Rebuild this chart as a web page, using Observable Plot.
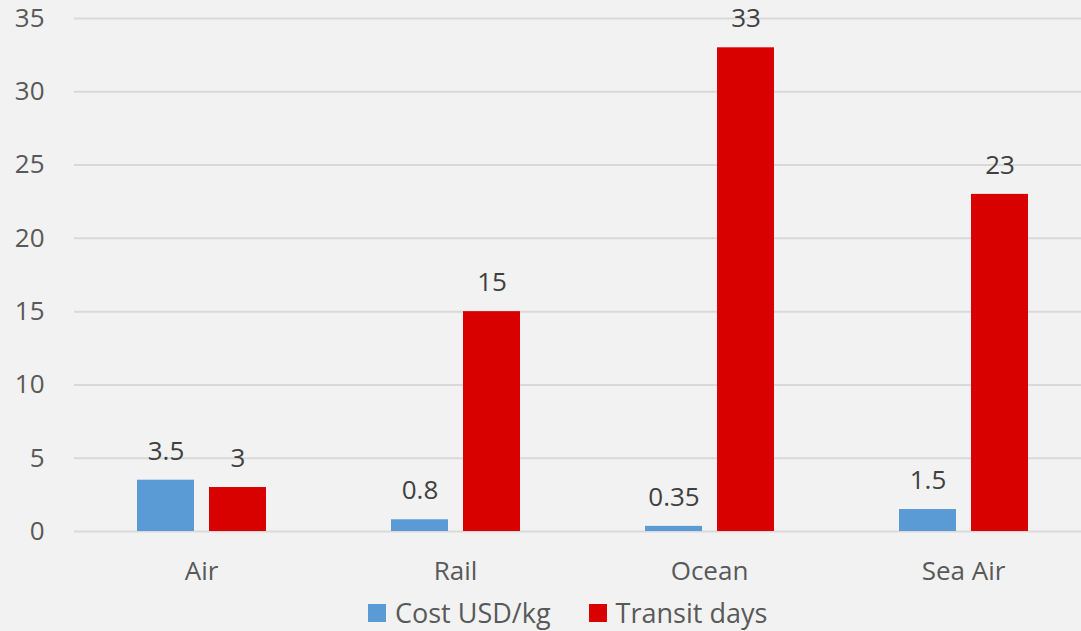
<!DOCTYPE html>
<html><head><meta charset="utf-8">
<script src="https://cdn.jsdelivr.net/npm/d3@7"></script>
<script src="https://cdn.jsdelivr.net/npm/@observablehq/plot@0.6"></script>
<style>
html,body{margin:0;padding:0;background:#f2f2f2;overflow:hidden;width:1081px;height:631px;}
#chart{width:1081px;height:595px;overflow:hidden;}
#chart svg{max-width:none !important;}
#legend{position:absolute;top:594px;left:368px;display:flex;align-items:center;font-family:"Open Sans",sans-serif;font-size:27px;color:#595959;white-space:nowrap;}
.sw{display:inline-block;width:18px;height:18px;margin-right:9px;}
.item{display:flex;align-items:center;margin-right:38px;}
</style></head>
<body>
<div id="chart"></div>
<div id="legend"></div>
<script>
const categories = ["Air", "Rail", "Ocean", "Sea Air"];
const seriesNames = ["Cost USD/kg", "Transit days"];
const costValues = [3.5, 0.8, 0.35, 1.5];
const transitValues = [3, 15, 33, 23];
const labelCost = ["3.5", "0.8", "0.35", "1.5"];
const labelTransit = ["3", "15", "33", "23"];
const colors = ["#5b9bd5", "#d90000"];
const yTicks = [0, 5, 10, 15, 20, 25, 30, 35];

const data = [];
categories.forEach((c, i) => {
  data.push({cat: c, series: seriesNames[0], value: costValues[i], label: labelCost[i]});
  data.push({cat: c, series: seriesNames[1], value: transitValues[i], label: labelTransit[i]});
});

const font = '"Open Sans", sans-serif';
const chart = Plot.plot({
  width: 1091,
  height: 595,
  marginTop: 18,
  marginBottom: 64,
  marginLeft: 72,
  marginRight: 0,
  style: {background: "#f2f2f2", fontFamily: font, fontSize: "26px", color: "#595959", overflow: "visible", maxWidth: "none"},
  fx: {domain: categories, padding: 0, label: null},
  x: {domain: seriesNames, paddingInner: 0.21, paddingOuter: 0.86, axis: null},
  y: {domain: [0, 35], ticks: yTicks, label: null},
  color: {domain: seriesNames, range: colors},
  marks: [
    Plot.ruleY(yTicks, {stroke: "#d9d9d9", strokeWidth: 2}),
    Plot.axisY({ticks: yTicks, tickSize: 0, tickPadding: 30, label: null, fontSize: 26, fill: "#595959"}),
    Plot.barY(data, {fx: "cat", x: "series", y: "value", fill: "series"}),
    Plot.text(data, {fx: "cat", x: "series", y: "value", text: "label", dy: -29, fill: "#404040", fontSize: 26}),
    Plot.axisFx({anchor: "bottom", tickSize: 0, tickPadding: 30, label: null, fontSize: 26, fill: "#595959"})
  ]
});
document.getElementById("chart").appendChild(chart);

const legend = document.getElementById("legend");
seriesNames.forEach((s, i) => {
  const item = document.createElement("div");
  item.className = "item";
  const sw = document.createElement("span");
  sw.className = "sw";
  sw.style.background = colors[i];
  item.appendChild(sw);
  item.appendChild(document.createTextNode(s));
  legend.appendChild(item);
});
</script>
</body></html>
